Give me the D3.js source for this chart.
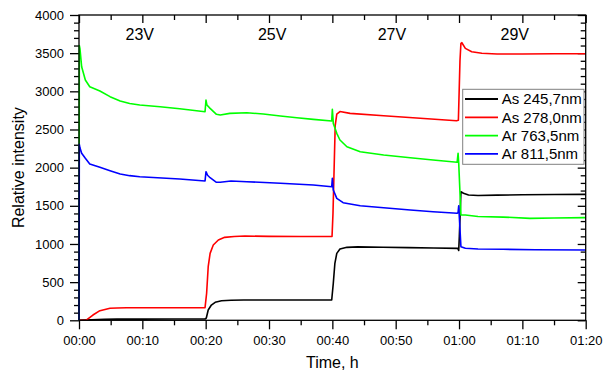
<!DOCTYPE html>
<html>
<head>
<meta charset="utf-8">
<script src="https://cdn.jsdelivr.net/npm/d3@7"></script>
<style>
  html, body { margin: 0; padding: 0; background: #fff; }
  svg { display: block; font-family: "Liberation Sans", Arial, sans-serif; }
</style>
</head>
<body>
<svg id="chart" width="604" height="371"></svg>
<script>
// ---- data (time in minutes, relative intensity) ----
const seriesNames = ["As 245,7nm", "As 278,0nm", "Ar 763,5nm", "Ar 811,5nm"];
const seriesColors = ["#000000", "#ff0000", "#00ff00", "#0000ff"];

const as2457 = [
  [0,0],[0.5,2],[2,8],[4,13],[6,15],[10,16],[15,17],[19.9,17],[20.1,30],[20.4,135],[20.9,200],
  [21.5,236],[22.5,257],[24,262],[26,265],[30,266],[35,266],[39.9,266],[40.15,485],[40.4,747],
  [40.7,877],[41.2,934],[42.3,956],[44,962],[48,958],[52,952],[56,948],[59.8,943],[59.95,915],
  [60.05,1100],[60.3,1685],[60.7,1664],[61.5,1641],[63,1635],[66,1640],[70,1645],[75,1648],[80,1650]
];
const as2780 = [
  [0,0],[0.5,0],[1.2,4],[2.2,69],[3.3,126],[4.9,157],[6,162],[7.5,165],[12,165],[16,165],[19.9,165],
  [20.15,354],[20.4,702],[20.7,877],[21.2,986],[22,1052],[23,1087],[24.5,1098],[26.2,1104],[30,1100],
  [35,1098],[39.95,1098],[40.1,1400],[40.45,2550],[40.7,2700],[41.2,2735],[42.8,2711],[48.1,2680],
  [53.3,2650],[59.6,2615],[59.9,2620],[60.15,3400],[60.3,3629],[60.45,3637],[61,3563],[62,3519],
  [63.6,3498],[66,3490],[70,3490],[75,3492],[80,3492]
];
const ar7635 = [
  [0,0],[0.05,3600],[0.15,3560],[0.42,3322],[1.0,3148],[1.7,3060],[3.3,3004],[4.9,2930],[6.5,2873],
  [8,2840],[9.6,2820],[12.8,2798],[15.9,2772],[19.9,2733],[20.05,2886],[20.2,2820],[20.7,2777],
  [21.7,2699],[22.3,2689],[23.8,2711],[26.5,2720],[29.1,2702],[31.8,2676],[34.4,2654],[37,2633],
  [39.9,2611],[40.0,2764],[40.15,2580],[40.7,2450],[41.2,2362],[42.3,2274],[44.4,2209],[48.1,2165],
  [52.3,2130],[55.9,2100],[59.7,2070],[59.85,2188],[59.95,2060],[60.3,1380],[61,1380],[63,1360],
  [67,1352],[71.2,1336],[75,1340],[80,1345]
];
const ar8115 = [
  [0,0],[0.05,2306],[0.15,2260],[0.42,2188],[1.0,2122],[1.7,2048],[3.3,2004],[4.9,1960],[6.5,1917],
  [8,1895],[9.6,1881],[15.9,1851],[19.9,1825],[20.05,1947],[20.3,1900],[20.7,1868],[21.7,1808],
  [22.3,1808],[24,1825],[26.5,1816],[31.8,1795],[37,1772],[39.9,1750],[40.0,1860],[40.15,1707],
  [40.7,1598],[41.7,1541],[44.4,1501],[48.1,1475],[52.3,1445],[55.9,1423],[59.7,1402],[59.85,1410],
  [59.95,1500],[60.3,964],[61,943],[63,934],[67,930],[72,925],[80,921]
];
const seriesData = [as2457, as2780, ar7635, ar8115];

const xTickValues = [0, 10, 20, 30, 40, 50, 60, 70, 80];
const xTickLabels = ["00:00","00:10","00:20","00:30","00:40","00:50","01:00","01:10","01:20"];
const xMinorValues = [5, 15, 25, 35, 45, 55, 65, 75];
const yTickValues = [0, 500, 1000, 1500, 2000, 2500, 3000, 3500, 4000];

const voltageLabels = ["23V", "25V", "27V", "29V"];
const voltageTimes = [9.6, 30.5, 49.4, 68.8];

// ---- layout ----
const L = 79, R = 585.7, T = 15, B = 320.3;
const svg = d3.select("#chart");
const x = d3.scaleLinear().domain([0, 80]).range([L, R]);
const y = d3.scaleLinear().domain([0, 4000]).range([B, T]);

const yMinor = d3.range(0, 4001, 100).filter(v => v % 500 !== 0);

function styleAxis(g) {
  g.select(".domain").remove();
  g.selectAll(".tick line").attr("stroke", "#000").attr("stroke-width", 1.3);
  g.selectAll("text").attr("fill", "#000").style("font-size", "13px")
    .style("font-family", '"Liberation Sans", Arial, sans-serif');
}

// bottom
svg.append("g").attr("transform", `translate(0,${B})`)
  .call(d3.axisBottom(x).tickValues(xTickValues).tickFormat((d, i) => xTickLabels[i]).tickSize(9).tickPadding(6))
  .call(styleAxis);
svg.append("g").attr("transform", `translate(0,${B})`)
  .call(d3.axisBottom(x).tickValues(xMinorValues).tickFormat("").tickSize(5))
  .call(styleAxis);
// top (inward)
svg.append("g").attr("transform", `translate(0,${T})`)
  .call(d3.axisBottom(x).tickValues(xTickValues).tickFormat("").tickSize(8))
  .call(styleAxis);
svg.append("g").attr("transform", `translate(0,${T})`)
  .call(d3.axisBottom(x).tickValues(xMinorValues).tickFormat("").tickSize(5))
  .call(styleAxis);
// left
svg.append("g").attr("transform", `translate(${L},0)`)
  .call(d3.axisLeft(y).tickValues(yTickValues).tickFormat(d3.format("d")).tickSize(9).tickPadding(6))
  .call(styleAxis);
svg.append("g").attr("transform", `translate(${L},0)`)
  .call(d3.axisLeft(y).tickValues(yMinor).tickFormat("").tickSize(5))
  .call(styleAxis);
// right (inward)
svg.append("g").attr("transform", `translate(${R},0)`)
  .call(d3.axisLeft(y).tickValues(yTickValues).tickFormat("").tickSize(8))
  .call(styleAxis);
svg.append("g").attr("transform", `translate(${R},0)`)
  .call(d3.axisLeft(y).tickValues(yMinor).tickFormat("").tickSize(5))
  .call(styleAxis);

// lines
const line = d3.line().x(d => x(d[0])).y(d => y(d[1]));
seriesData.forEach((s, i) => {
  svg.append("path").datum(s)
    .attr("fill", "none")
    .attr("stroke", seriesColors[i])
    .attr("stroke-width", 1.6)
    .attr("stroke-linejoin", "round")
    .attr("d", line);
});

// frame
svg.append("rect").attr("x", L).attr("y", T).attr("width", R - L).attr("height", B - T)
  .attr("fill", "none").attr("stroke", "#000").attr("stroke-width", 1.3);

// voltage labels
svg.selectAll(".vlab").data(voltageLabels).enter().append("text")
  .attr("x", (d, i) => x(voltageTimes[i])).attr("y", 40)
  .attr("text-anchor", "middle").style("font-size", "16px").text(d => d);

// axis titles
svg.append("text").attr("transform", `translate(24,${(T + B) / 2}) rotate(-90)`)
  .attr("text-anchor", "middle").style("font-size", "16px").text("Relative intensity");
svg.append("text").attr("x", (L + R) / 2).attr("y", 368)
  .attr("text-anchor", "middle").style("font-size", "16px").text("Time, h");

// legend
const lg = svg.append("g");
lg.append("rect").attr("x", 462.7).attr("y", 89.3).attr("width", 121.3).attr("height", 75)
  .attr("fill", "#fff").attr("stroke", "#808080").attr("stroke-width", 1);
seriesNames.forEach((n, i) => {
  const yy = 99 + i * 18.3;
  lg.append("line").attr("x1", 465).attr("x2", 498).attr("y1", yy).attr("y2", yy)
    .attr("stroke", seriesColors[i]).attr("stroke-width", 1.8);
  lg.append("text").attr("x", 501.7).attr("y", yy + 5.3).style("font-size", "15px").text(n);
});
</script>
</body>
</html>
